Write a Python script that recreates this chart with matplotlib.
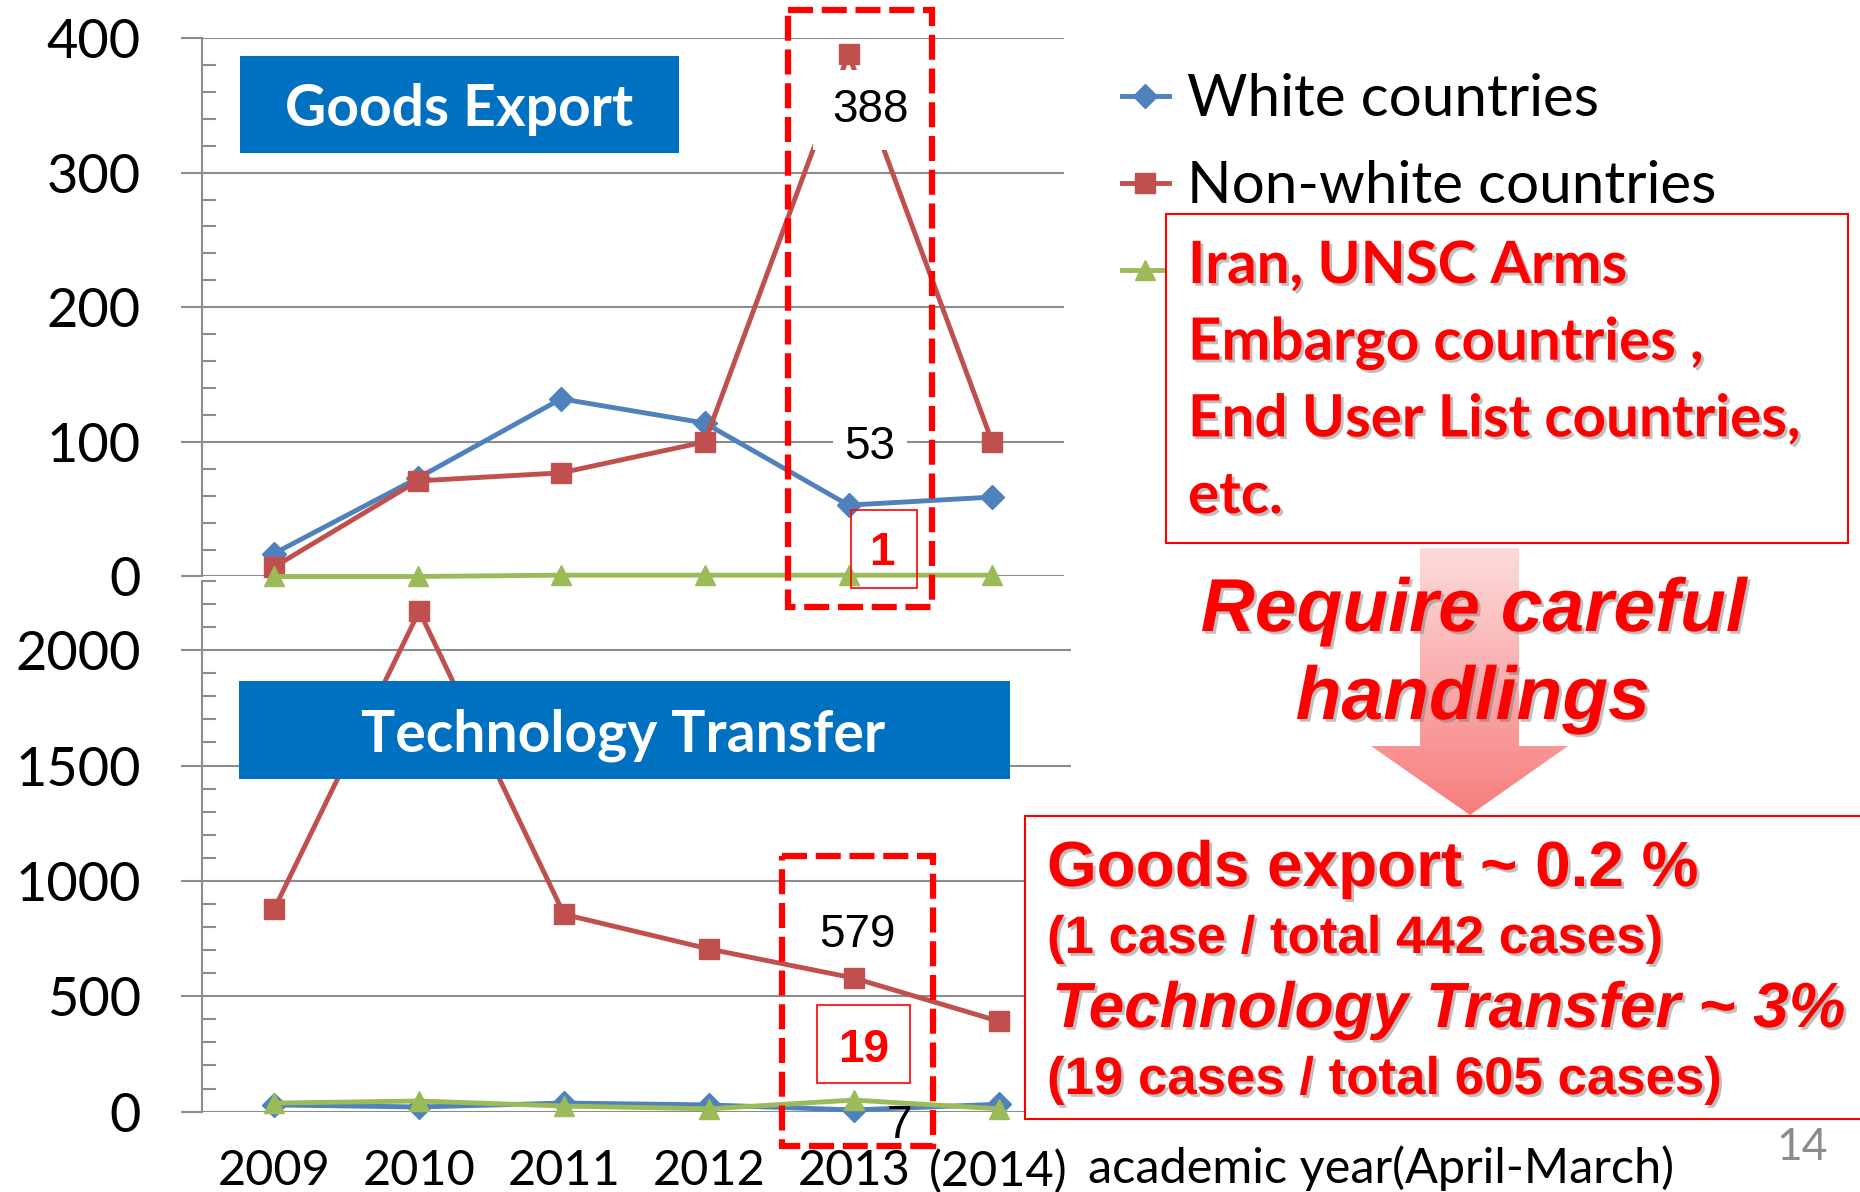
import numpy as np
import matplotlib
matplotlib.use("Agg")
import matplotlib.pyplot as plt
from matplotlib.patches import Rectangle, Polygon
from matplotlib.ticker import MultipleLocator
import matplotlib.patheffects as pe

# categories (academic year, April-March)
years = ["2009", "2010", "2011", "2012", "2013", "(2014)"]
series_names = ["White countries", "Non-white countries", "Iran, UNSC etc."]

# goods export, number of cases
goods_white = [17, 73, 132, 114, 53, 59]
goods_nonwhite = [7, 71, 77, 100, 388, 100]
goods_iran = [0, 0, 1, 1, 1, 1]

# technology transfer, number of cases
tech_white = [29, 20, 37, 29, 7, 32]
tech_nonwhite = [880, 2170, 855, 705, 579, 392]
tech_iran = [37, 46, 24, 12, 50, 12]

W, H = 1860, 1192
plt.rcParams['font.family'] = ['Lato', 'DejaVu Sans']

BLUE = '#4F81BD'
RED = '#C0504D'
GREEN = '#9BBB59'
GRID = '#8c8c8c'
BRIGHT = '#FF0000'

fig = plt.figure(figsize=(W / 100, H / 100), dpi=100)


def px_axes(left, top, right, bottom):
    # axes rectangle given in pixels from the top-left corner
    return fig.add_axes([left / W, 1 - bottom / H, (right - left) / W, (bottom - top) / H])


def style_axes(ax, ymax, major, minor):
    ax.set_xlim(-0.5, 5.5)
    ax.set_ylim(0, ymax)
    ax.yaxis.set_major_locator(MultipleLocator(major))
    ax.yaxis.set_minor_locator(MultipleLocator(minor))
    for s in ['top', 'right', 'bottom']:
        ax.spines[s].set_visible(False)
    ax.spines['left'].set_color(GRID)
    ax.spines['left'].set_linewidth(1.5)
    ax.grid(True, axis='y', which='major', color=GRID, lw=1.5)
    ax.set_axisbelow(True)
    ax.tick_params(axis='y', which='major', direction='out', length=15, width=1.5,
                   color=GRID, labelsize=39, pad=29)
    ax.tick_params(axis='y', which='minor', direction='in', length=10, width=1.5, color=GRID)
    ax.set_xticks(range(len(years)))
    ax.tick_params(axis='x', length=0)
    ax.patch.set_alpha(0)


def draw_series(ax, white, nonwhite, iran):
    x = np.arange(len(years))
    kw = dict(lw=3.5, clip_on=False, zorder=3)
    lw_ = ax.plot(x, white, color=BLUE, marker='D', ms=12, **kw)[0]
    ln_ = ax.plot(x, nonwhite, color=RED, marker='s', ms=14, **kw)[0]
    li_ = ax.plot(x, iran, color=GREEN, marker='^', ms=15, **kw)[0]
    return [lw_, ln_, li_]

# goods export chart
ax1 = px_axes(202, 38, 1064, 576.5)
style_axes(ax1, 400, 100, 20)
handles = draw_series(ax1, goods_white, goods_nonwhite, goods_iran)
ax1.set_xticklabels([])

# technology transfer chart
ax2 = px_axes(202, 581, 1071, 1111.6)
style_axes(ax2, 2300, 500, 100)
draw_series(ax2, tech_white, tech_nonwhite, tech_iran)
ax2.set_xticklabels(years, fontsize=35)
ax2.tick_params(axis='x', pad=27)

# overlay in pixel coordinates for the slide annotations
ov = fig.add_axes([0, 0, 1, 1], zorder=10)
ov.axis('off')
ov.patch.set_alpha(0)

shadow = [pe.withSimplePatchShadow(offset=(2, -2), shadow_rgbFace='0.45', alpha=0.45)]

# blue title boxes
ov.add_patch(Rectangle((240, 56), 439, 97, facecolor='#0070C0', edgecolor='none', zorder=4))
ov.text(459, 126, "Goods Export", color='white', fontsize=41, fontweight='bold',
        ha='center', va='baseline', zorder=5)
ov.add_patch(Rectangle((238.5, 681), 771.5, 98, facecolor='#0070C0', edgecolor='none', zorder=4))
ov.text(623, 752, "Technology Transfer", color='white', fontsize=41, fontweight='bold',
        ha='center', va='baseline', zorder=5)

# dashed highlight boxes around 2013
dash = (0, (4, 1.4))
ov.add_patch(Rectangle((788, 10), 144, 597, fill=False, edgecolor=BRIGHT, lw=4.5,
                       linestyle=dash, zorder=6))
ov.add_patch(Rectangle((782, 856), 151, 290, fill=False, edgecolor=BRIGHT, lw=4.5,
                       linestyle=dash, zorder=6))

# data labels for 2013
lab = dict(family='Liberation Sans', fontsize=33, ha='center', va='baseline', zorder=5)
wbox = dict(boxstyle='square,pad=0.4', facecolor='white', edgecolor='none')
ov.text(870, 122, f"{goods_nonwhite[4]}", bbox=wbox, **lab)
ov.text(870, 459, f"{goods_white[4]}", bbox=dict(boxstyle='square,pad=0.25', facecolor='white',
                                                 edgecolor='none'), **lab)
ov.text(857, 947, f"{tech_nonwhite[4]}", **lab)
ov.text(899, 1138, f"{tech_white[4]}", **lab)
ov.add_patch(Rectangle((851, 510), 66, 78, fill=False, edgecolor=BRIGHT, lw=1.2, zorder=5))
ov.text(882, 565, "1", color=BRIGHT, fontweight='bold', **lab)
ov.add_patch(Rectangle((817, 1005), 93, 78, fill=False, edgecolor=BRIGHT, lw=1.2, zorder=5))
ov.text(864, 1062, "19", color=BRIGHT, fontweight='bold', **lab)

# legend (third entry's text sits behind the red note box)
leg = ov.legend(handles, series_names, loc='upper left', bbox_to_anchor=(1122 / W, 1 - 73 / H),
                frameon=False, fontsize=42, handlelength=0.8, handletextpad=0.31,
                labelspacing=0.59, borderpad=0, borderaxespad=0, numpoints=1)
leg.get_texts()[2].set_visible(False)

# red note box on the right
ov.add_patch(Rectangle((1166, 214), 681.5, 329, facecolor='white', edgecolor=BRIGHT,
                       lw=1.5, zorder=7))
note = ["Iran, UNSC Arms", "Embargo countries ,", "End User List countries,", "etc."]
for i, line in enumerate(note):
    ov.text(1188, 283 + 76.7 * i, line, color=BRIGHT, fontsize=42, fontweight='bold',
            va='baseline', zorder=8, path_effects=shadow)

# pink gradient arrow
arrow_pts = [(1420, 548), (1519, 548), (1519, 746), (1568, 746), (1470, 815),
             (1371, 746), (1420, 746)]
arrow = Polygon(arrow_pts, closed=True, facecolor='none', edgecolor='none', zorder=7)
ov.add_patch(arrow)
top_c = np.array([0.99, 0.86, 0.86])
bot_c = np.array([0.97, 0.49, 0.49])
t = np.linspace(0, 1, 200)[:, None, None]
grad = top_c * (1 - t) + bot_c * t
grad = np.repeat(grad, 2, axis=1)
im = ov.imshow(grad, extent=(1371, 1568, 815, 548), origin='upper', aspect='auto', zorder=7)
im.set_clip_path(arrow)

ov.text(1474, 631, "Require careful", family='Liberation Sans', style='italic',
        fontweight='bold', fontsize=54, color=BRIGHT, ha='center', va='baseline',
        zorder=9, path_effects=shadow)
ov.text(1473, 719, "handlings", family='Liberation Sans', style='italic',
        fontweight='bold', fontsize=54, color=BRIGHT, ha='center', va='baseline',
        zorder=9, path_effects=shadow)

# summary box
ov.add_patch(Rectangle((1025, 816), 850, 303, facecolor='white', edgecolor=BRIGHT,
                       lw=1.5, zorder=8))
summ = dict(family='Liberation Sans', fontweight='bold', color=BRIGHT, va='baseline',
            zorder=9, path_effects=shadow)
ov.text(1047, 886, "Goods export ~ 0.2 %", fontsize=46, **summ)
ov.text(1047, 953, "(1 case / total 442 cases)", fontsize=38, **summ)
ov.text(1052, 1027, "Technology Transfer ~ 3%", fontsize=46, style='italic', **summ)
ov.text(1047, 1094, "(19 cases / total 605 cases)", fontsize=38, **summ)

# axis caption and page number
ov.text(1088, 1183, "academic year(April-March)", fontsize=35, va='baseline')
ov.text(1828, 1160, "14", fontsize=32, color='#8c8c8c', ha='right', va='baseline')

ov.set_xlim(0, W)
ov.set_ylim(H, 0)

fig.savefig("out.png", dpi=100, facecolor='white')
